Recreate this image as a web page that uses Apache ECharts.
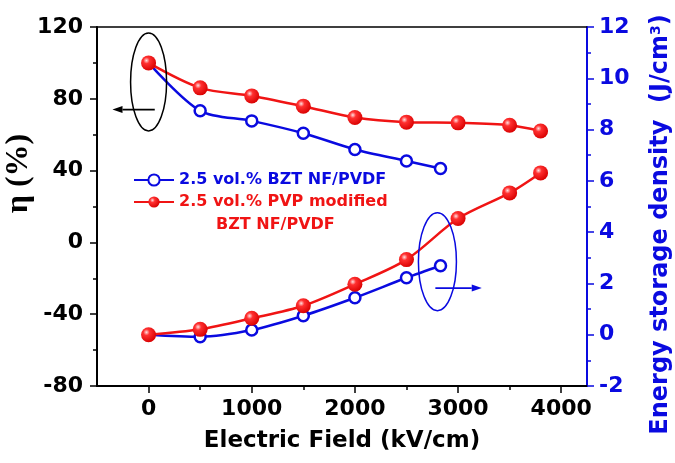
<!DOCTYPE html>
<html><head><meta charset="utf-8">
<script src="https://cdn.jsdelivr.net/npm/echarts@6/dist/echarts.min.js"></script>
<style>html,body{margin:0;padding:0;background:#fff}#c{width:675px;height:463px}</style>
</head><body><div id="c"></div>
<script>
const fieldRed = [0, 500, 1000, 1500, 2000, 2500, 3000, 3500, 3800];
const etaRed = [100, 86.1, 81.6, 75.9, 69.6, 67.0, 66.6, 65.3, 62.1];
const energyRed = [0, 0.21, 0.64, 1.13, 1.97, 2.93, 4.53, 5.53, 6.31];
const fieldBlue = [0, 500, 1000, 1500, 2000, 2500, 2830];
const etaBlue = [100, 73.3, 67.7, 60.8, 51.8, 45.4, 41.2];
const energyBlue = [0, -0.08, 0.18, 0.74, 1.44, 2.22, 2.69];
const xMajorTicks = [0, 1000, 2000, 3000, 4000];
const xMinorTicks = [500, 1500, 2500, 3500];
const nameBlue = '2.5 vol.% BZT NF/PVDF';
const nameRed = '2.5 vol.% PVP modified';
const nameRed2 = 'BZT NF/PVDF';

const BLUE = '#0a0ae0', RED = '#f01414';
const FONT = 'DejaVu Sans';
const zip = (a, b) => a.map((v, i) => [v, b[i]]);
const redBall = {type:'radial', x:0.36, y:0.34, r:0.7, colorStops:[
  {offset:0, color:'#ffe0e0'}, {offset:0.3, color:'#ff3030'}, {offset:1, color:'#d80000'}]};

const chart = echarts.init(document.getElementById('c'), null, {renderer:'canvas'});
const tickLbl = {fontFamily:FONT, fontWeight:'bold', fontSize:22, formatter: v => String(v)};
const blueSeries = (data, yi) => ({
  name: nameBlue, type:'line', xAxisIndex:0, yAxisIndex:yi, data, smooth:0.3,
  symbol:'circle', symbolSize:11, color:BLUE,
  lineStyle:{color:BLUE, width:2.5},
  itemStyle:{color:'#fff', borderColor:BLUE, borderWidth:2.5}, z:2
});
const redSeries = (data, yi) => ({
  name: nameRed, type:'line', xAxisIndex:0, yAxisIndex:yi, data, smooth:0.3,
  symbol:'circle', symbolSize:15, color:RED,
  lineStyle:{color:RED, width:2.5},
  itemStyle:{color:redBall, borderWidth:0}, z:3
});

chart.setOption({
  animation:false,
  backgroundColor:'#fff',
  grid:{left:97, right:88, top:27, bottom:77, containLabel:false, outerBoundsMode:'none'},
  legend:{
    orient:'vertical', left:128, top:167, itemWidth:40, itemHeight:14, itemGap:6,
    data:[
      {name:nameBlue, textStyle:{color:BLUE}},
      {name:nameRed, textStyle:{color:RED}}
    ],
    textStyle:{fontFamily:FONT, fontWeight:'bold', fontSize:16}
  },
  xAxis:[
    {type:'value', min:-500, max:4250, position:'bottom',
     axisLine:{onZero:false, lineStyle:{color:'#000', width:2}},
     axisTick:{customValues:xMajorTicks, length:7, lineStyle:{color:'#000', width:1.5}},
     axisLabel:{customValues:xMajorTicks, color:'#000', margin:12, ...tickLbl},
     splitLine:{show:false},
     name:'Electric Field (kV/cm)', nameLocation:'middle', nameGap:44, nameMoveOverlap:false,
     nameTextStyle:{fontFamily:FONT, fontWeight:'bold', fontSize:23, color:'#000'}},
    {type:'value', min:-500, max:4250, position:'bottom',
     axisLine:{show:false, onZero:false},
     axisTick:{customValues:xMinorTicks, length:4, lineStyle:{color:'#000', width:1.5}},
     axisLabel:{show:false}, splitLine:{show:false}},
    {type:'value', min:-500, max:4250, position:'top',
     axisLine:{show:true, onZero:false, lineStyle:{color:'#000', width:1.5}},
     axisTick:{show:false}, axisLabel:{show:false}, splitLine:{show:false}}
  ],
  yAxis:[
    {type:'value', min:-80, max:120, interval:40, position:'left',
     axisLine:{show:true, onZero:false, lineStyle:{color:'#000', width:2}},
     axisTick:{show:true, length:7, lineStyle:{color:'#000', width:1.5}},
     minorTick:{show:true, splitNumber:2, length:4, lineStyle:{color:'#000', width:1.5}},
     axisLabel:{color:'#000', margin:14, ...tickLbl},
     splitLine:{show:false},
     name:'η (%)', nameLocation:'middle', nameGap:62, nameMoveOverlap:false,
     nameTextStyle:{fontFamily:'Liberation Serif', fontWeight:'bold', fontSize:32, color:'#000', padding:[0,0,0,66]}},
    {type:'value', min:-2, max:12, interval:2, position:'right',
     axisLine:{show:true, onZero:false, lineStyle:{color:BLUE, width:2}},
     axisTick:{show:true, length:7, lineStyle:{color:BLUE, width:1.5}},
     minorTick:{show:true, splitNumber:2, length:4, lineStyle:{color:BLUE, width:1.5}},
     axisLabel:{color:BLUE, margin:12, ...tickLbl},
     splitLine:{show:false},
     name:'Energy storage density  (J/cm{sup|3})', nameLocation:'middle', nameGap:62, nameMoveOverlap:false,
     nameTextStyle:{fontFamily:FONT, fontWeight:'bold', fontSize:24, color:BLUE, padding:[0,36,0,0],
       rich:{sup:{fontFamily:FONT, fontWeight:'bold', fontSize:14, color:BLUE, verticalAlign:'top'}}}}
  ],
  series:[
    blueSeries(zip(fieldBlue, etaBlue), 0),
    blueSeries(zip(fieldBlue, energyBlue), 1),
    redSeries(zip(fieldRed, etaRed), 0),
    redSeries(zip(fieldRed, energyRed), 1)
  ]
});

// annotations anchored to data coordinates
const px = (x, y, yi) => chart.convertToPixel({xAxisIndex:0, yAxisIndex:yi}, [x, y]);
function arrow(from, to, color) {
  const dx = to[0] - from[0], dy = to[1] - from[1];
  const len = Math.hypot(dx, dy), ux = dx / len, uy = dy / len;
  const L = 10, W = 3.5;
  const b = [to[0] - ux * L, to[1] - uy * L];
  return [
    {type:'line', shape:{x1:from[0], y1:from[1], x2:b[0], y2:b[1]}, style:{stroke:color, lineWidth:1.8}, z:10},
    {type:'polygon', shape:{points:[to, [b[0] - uy * W, b[1] + ux * W], [b[0] + uy * W, b[1] - ux * W]]}, style:{fill:color}, z:10}
  ];
}
const e1 = px(0, 89.4, 0), e2 = px(2800, 2.85, 1);
const a1 = [px(60, 74, 0), px(-350, 74, 0)];
const a2 = [px(2780, 1.82, 1), px(3230, 1.82, 1)];
chart.setOption({
  graphic:[
    {type:'ellipse', shape:{cx:e1[0], cy:e1[1], rx:18, ry:49}, style:{fill:'none', stroke:'#000', lineWidth:1.5}, z:10},
    {type:'ellipse', shape:{cx:e2[0], cy:e2[1], rx:19, ry:49}, style:{fill:'none', stroke:BLUE, lineWidth:1.5}, z:10},
    ...arrow(a1[0], a1[1], '#000'),
    ...arrow(a2[0], a2[1], BLUE),
    {type:'text', left:216, top:217, style:{text:nameRed2, fill:RED, font:'bold 16px "DejaVu Sans"'}, z:10}
  ]
});
</script></body></html>
